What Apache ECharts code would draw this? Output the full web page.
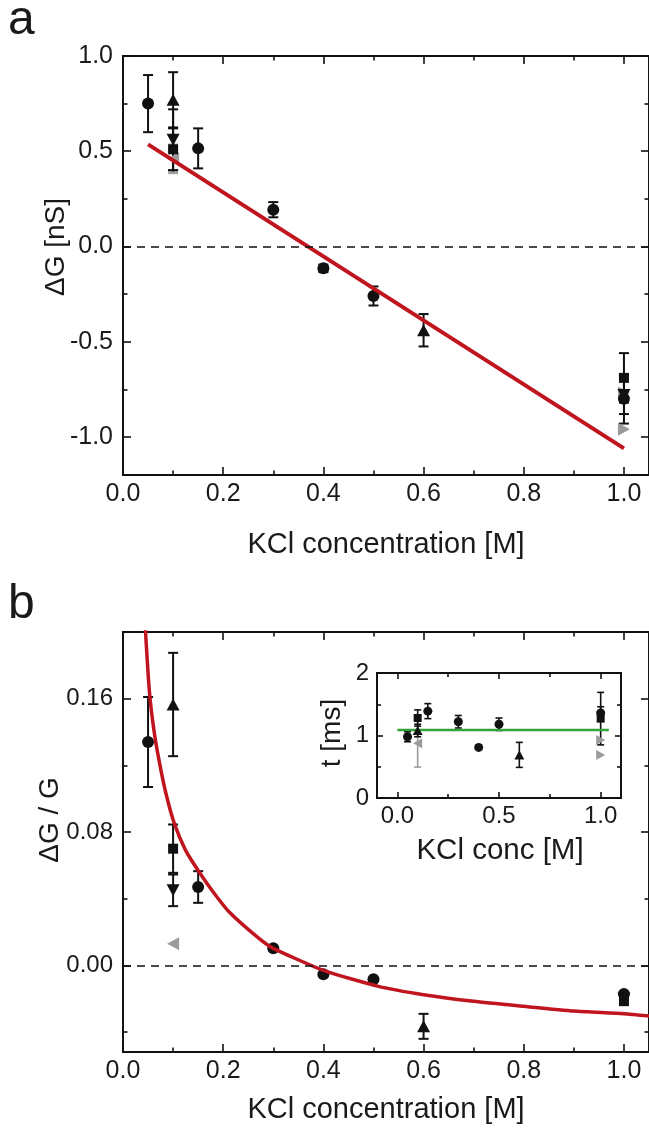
<!DOCTYPE html>
<html>
<head>
<meta charset="utf-8">
<script src="https://cdn.jsdelivr.net/npm/echarts@6/dist/echarts.min.js"></script>
<style>
  html, body { margin: 0; padding: 0; background: #fff; }
  #chart { width: 649px; height: 1131px; }
</style>
</head>
<body>
<div id="chart"></div>
<script>
// ---------- Panel a: conductance change ΔG [nS] vs KCl concentration ----------
const aCircleConc = [0.05, 0.15, 0.3, 0.4, 0.5, 1.0];
const aCircleVal  = [0.75, 0.515, 0.193, -0.115, -0.26, -0.80];
const aCircleErr  = [0.15, 0.105, 0.04, 0.02, 0.05, 0.13];

const aUpConc = [0.1, 0.6];
const aUpVal  = [0.77, -0.44];
const aUpErr  = [0.145, 0.085];

const aSquareConc = [0.1, 1.0];
const aSquareVal  = [0.51, -0.69];
const aSquareErr  = [0.11, 0.13];

const aDownConc = [0.1, 1.0];
const aDownVal  = [0.56, -0.78];
const aDownErr  = [0.16, 0.1];

const aGrayLeftConc = [0.1];
const aGrayLeftVal  = [0.46];
const aGrayLeftErr  = [0.075];

const aGrayRightConc = [1.0, 1.0];
const aGrayRightVal  = [-0.77, -0.96];

// linear fit, end points
const aFitConc = [0.05, 1.0];
const aFitVal  = [0.536, -1.06];

// ---------- Panel b: relative change ΔG / G ----------
const bCircleConc = [0.05, 0.15, 0.3, 0.4, 0.5, 1.0];
const bCircleVal  = [0.134, 0.047, 0.0102, -0.0054, -0.0084, -0.0172];
const bCircleErr  = [0.027, 0.0095, 0, 0, 0, 0];

const bUpConc = [0.1, 0.6];
const bUpVal  = [0.1565, -0.0366];
const bUpErr  = [0.031, 0.0075];

const bSquareConc = [0.1, 1.0];
const bSquareVal  = [0.070, -0.0215];
const bSquareErr  = [0.0145, 0];

const bDownConc = [0.1, 1.0];
const bDownVal  = [0.045, -0.020];
const bDownErr  = [0.0095, 0];

const bGrayLeftConc = [0.1];
const bGrayLeftVal  = [0.013];

// fitted curve, sampled
const bFitConc = [0.04, 0.045, 0.0528, 0.0613, 0.0713, 0.085, 0.1026, 0.125, 0.152, 0.18, 0.212, 0.272, 0.3, 0.4, 0.51, 0.6, 0.7, 0.8, 0.9, 1.0, 1.05];
const bFitVal  = [0.23, 0.2, 0.164, 0.142, 0.124, 0.104, 0.085, 0.069, 0.056, 0.044, 0.032, 0.016, 0.0102, -0.003, -0.0126, -0.0176, -0.0216, -0.0246, -0.0274, -0.029, -0.0304];

// ---------- Inset: dwell time t [ms] ----------
const iCircleConc = [0.05, 0.15, 0.3, 0.4, 0.5, 1.0];
const iCircleVal  = [0.98, 1.39, 1.22, 0.81, 1.18, 1.36];
const iCircleErr  = [0.08, 0.12, 0.1, 0, 0.1, 0.1];

const iUpConc = [0.1, 0.6];
const iUpVal  = [1.08, 0.69];
const iUpErr  = [0.1, 0.2];

const iSquareConc = [0.1, 1.0];
const iSquareVal  = [1.28, 1.27];
const iSquareErr  = [0.13, 0.42];

const iGrayLeftConc = [0.1];
const iGrayLeftVal  = [0.875];
const iGrayLeftErr  = [0.38];

const iGrayRightConc = [1.0, 1.0];
const iGrayRightVal  = [0.93, 0.69];

const iMeanConc = [0.0, 1.04];
const iMeanVal  = [1.09, 1.09];

// ---------- tick labels ----------
const xTicksMain = [0, 0.2, 0.4, 0.6, 0.8, 1.0];
const xMinorMain = [0.1, 0.3, 0.5, 0.7, 0.9];
const aYTicks = [-1.0, -0.5, 0, 0.5, 1.0];
const aYMinor = [-0.75, -0.25, 0.25, 0.75];
const bYTicks = [0, 0.08, 0.16];
const bYMinor = [-0.04, 0.04, 0.12];
const iXTicks = [0, 0.5, 1.0];
const iXMinor = [0.25, 0.75];
const iYTicks = [0, 1, 2];
const iYMinor = [0.5, 1.5];

// ---------- styling ----------
const FONT = "'Liberation Sans', Arial, Helvetica, sans-serif";
const BLACK = '#111111';
const GRAY = '#9b9b9b';
const RED = '#c0141f';
const GREEN = '#33a23a';

const zip = (xs, ys) => xs.map((x, i) => [x, ys[i]]);
const bars = (xs, ys, es) => xs.map((x, i) => [x, ys[i] - es[i], ys[i] + es[i]]).filter((d, i) => es[i] > 0);

// four axes per dimension: labelled major, minor, and the mirrored pair on the far side
function frameAxes(dim, gridIndex, min, max, majors, minors, fmt, font, margin, majLen, minLen) {
  const near = dim === 'x' ? 'bottom' : 'left';
  const far = dim === 'x' ? 'top' : 'right';
  const base = (pos, vals, len, labels) => ({
    type: 'value', gridIndex, position: pos, min, max,
    axisLine: { show: true, onZero: false, lineStyle: { color: BLACK, width: 1.8 } },
    axisTick: { show: true, inside: true, length: len, customValues: vals, lineStyle: { color: BLACK, width: 1.6 } },
    axisLabel: labels ? {
      show: true, customValues: majors, formatter: fmt, margin,
      color: '#1a1a1a', fontFamily: FONT, fontSize: font
    } : { show: false },
    splitLine: { show: false },
    minorTick: { show: false }
  });
  return [
    base(near, majors, majLen, true),
    base(near, minors, minLen, false),
    base(far, majors, majLen, false),
    base(far, minors, minLen, false)
  ];
}

const fmt1 = v => v.toFixed(1);
const fmt2 = v => v.toFixed(2);
const fmt0 = v => v.toFixed(0);

const xAxes = [
  ...frameAxes('x', 0, 0, 1.05, xTicksMain, xMinorMain, fmt1, 25, 7, 8, 4.5),
  ...frameAxes('x', 1, 0, 1.05, xTicksMain, xMinorMain, fmt1, 25, 7, 8, 4.5),
  ...frameAxes('x', 2, -0.1, 1.1, iXTicks, iXMinor, fmt1, 24, 6, 6, 4)
];
const yAxes = [
  ...frameAxes('y', 0, -1.2, 1.0, aYTicks, aYMinor, fmt1, 25, 10, 8, 4.5),
  ...frameAxes('y', 1, -0.052, 0.2, bYTicks, bYMinor, fmt2, 24, 10, 8, 4.5),
  ...frameAxes('y', 2, 0, 2, iYTicks, iYMinor, fmt0, 24, 8, 6, 4)
];

function errRender(capHalf, color, lw) {
  return function (params, api) {
    const x = api.value(0);
    const lo = api.coord([x, api.value(1)]);
    const hi = api.coord([x, api.value(2)]);
    const style = { stroke: color, lineWidth: lw };
    return {
      type: 'group',
      children: [
        { type: 'line', shape: { x1: lo[0], y1: lo[1], x2: hi[0], y2: hi[1] }, style },
        { type: 'line', shape: { x1: lo[0] - capHalf, y1: lo[1], x2: lo[0] + capHalf, y2: lo[1] }, style },
        { type: 'line', shape: { x1: hi[0] - capHalf, y1: hi[1], x2: hi[0] + capHalf, y2: hi[1] }, style }
      ]
    };
  };
}

function errSeries(g, data, color, cap, lw) {
  return {
    type: 'custom', xAxisIndex: 4 * g, yAxisIndex: 4 * g, data,
    encode: { x: 0, y: [1, 2] }, renderItem: errRender(cap, color, lw),
    clip: true, z: 2, silent: true
  };
}

function pts(g, data, symbol, size, color, rotate) {
  return {
    type: 'scatter', xAxisIndex: 4 * g, yAxisIndex: 4 * g, data,
    symbol, symbolSize: size, symbolRotate: rotate || 0,
    itemStyle: { color, opacity: 1 }, z: 3, silent: true
  };
}

const MS = 12, TS = [13, 12], SQ = 10;
const IMS = 9, ITS = [10, 9], ISQ = 8;

const series = [
  // panel a
  errSeries(0, bars(aGrayLeftConc, aGrayLeftVal, aGrayLeftErr), GRAY, 5, 2),
  errSeries(0, bars(aCircleConc, aCircleVal, aCircleErr), BLACK, 5, 2),
  errSeries(0, bars(aUpConc, aUpVal, aUpErr), BLACK, 5, 2),
  errSeries(0, bars(aSquareConc, aSquareVal, aSquareErr), BLACK, 5, 2),
  errSeries(0, bars(aDownConc, aDownVal, aDownErr), BLACK, 5, 2),
  pts(0, zip(aGrayLeftConc, aGrayLeftVal), 'triangle', TS, GRAY, 90),
  pts(0, zip(aGrayRightConc, aGrayRightVal), 'triangle', TS, GRAY, -90),
  pts(0, zip(aDownConc, aDownVal), 'triangle', TS, BLACK, 180),
  pts(0, zip(aSquareConc, aSquareVal), 'rect', SQ, BLACK),
  pts(0, zip(aUpConc, aUpVal), 'triangle', TS, BLACK),
  pts(0, zip(aCircleConc, aCircleVal), 'circle', MS, BLACK),
  {
    type: 'line', xAxisIndex: 0, yAxisIndex: 0, data: zip(aFitConc, aFitVal),
    showSymbol: false, lineStyle: { color: RED, width: 4 }, z: 4, silent: true,
    markLine: {
      silent: true, symbol: 'none', label: { show: false },
      lineStyle: { color: BLACK, type: [8, 6], width: 1.6 },
      data: [{ yAxis: 0 }]
    }
  },

  // panel b
  errSeries(1, bars(bCircleConc, bCircleVal, bCircleErr), BLACK, 5, 2),
  errSeries(1, bars(bUpConc, bUpVal, bUpErr), BLACK, 5, 2),
  errSeries(1, bars(bSquareConc, bSquareVal, bSquareErr), BLACK, 5, 2),
  errSeries(1, bars(bDownConc, bDownVal, bDownErr), BLACK, 5, 2),
  pts(1, zip(bGrayLeftConc, bGrayLeftVal), 'triangle', TS, GRAY, 90),
  pts(1, zip(bDownConc, bDownVal), 'triangle', TS, BLACK, 180),
  pts(1, zip(bSquareConc, bSquareVal), 'rect', SQ, BLACK),
  pts(1, zip(bUpConc, bUpVal), 'triangle', TS, BLACK),
  pts(1, zip(bCircleConc, bCircleVal), 'circle', MS, BLACK),
  {
    type: 'line', xAxisIndex: 4, yAxisIndex: 4, data: zip(bFitConc, bFitVal),
    smooth: 0.2, showSymbol: false, clip: true,
    lineStyle: { color: RED, width: 3.5 }, z: 4, silent: true,
    markLine: {
      silent: true, symbol: 'none', label: { show: false },
      lineStyle: { color: BLACK, type: [8, 6], width: 1.6 },
      data: [{ yAxis: 0 }]
    }
  },

  // inset
  errSeries(2, bars(iGrayLeftConc, iGrayLeftVal, iGrayLeftErr), GRAY, 3.5, 1.6),
  errSeries(2, bars(iCircleConc, iCircleVal, iCircleErr), BLACK, 3.5, 1.6),
  errSeries(2, bars(iUpConc, iUpVal, iUpErr), BLACK, 3.5, 1.6),
  errSeries(2, bars(iSquareConc, iSquareVal, iSquareErr), BLACK, 3.5, 1.6),
  {
    type: 'line', xAxisIndex: 8, yAxisIndex: 8, data: zip(iMeanConc, iMeanVal),
    showSymbol: false, lineStyle: { color: GREEN, width: 2.5 }, z: 2.5, silent: true
  },
  pts(2, zip(iGrayLeftConc, iGrayLeftVal), 'triangle', ITS, GRAY, 90),
  pts(2, zip(iGrayRightConc, iGrayRightVal), 'triangle', ITS, GRAY, -90),
  pts(2, zip(iSquareConc, iSquareVal), 'rect', ISQ, BLACK),
  pts(2, zip(iUpConc, iUpVal), 'triangle', ITS, BLACK),
  pts(2, zip(iCircleConc, iCircleVal), 'circle', IMS, BLACK)
];

const txt = (text, x, y, size, rot, align) => ({
  type: 'text', x, y, rotation: rot || 0, silent: true,
  style: {
    text, fill: '#1a1a1a', font: `${size}px ${FONT}`,
    textAlign: align || 'center', textVerticalAlign: 'middle'
  }
});

const chart = echarts.init(document.getElementById('chart'), null, { renderer: 'canvas', width: 649, height: 1131 });
chart.setOption({
  backgroundColor: '#ffffff',
  animation: false,
  grid: [
    { left: 123, top: 56, width: 527, height: 419 },
    { left: 123, top: 632, width: 527, height: 420 },
    { left: 377, top: 673, width: 244, height: 125, backgroundColor: '#fff', show: true, borderWidth: 0 }
  ],
  xAxis: xAxes,
  yAxis: yAxes,
  series,
  graphic: [
    txt('a', 8, 21, 48, 0, 'left'),
    txt('b', 8, 605, 48, 0, 'left'),
    txt('ΔG [nS]', 56, 247, 28, Math.PI / 2),
    txt('KCl concentration [M]', 386, 545, 29),
    txt('ΔG / G', 50, 820, 28, Math.PI / 2),
    txt('KCl concentration [M]', 386, 1110, 29),
    txt('t [ms]', 332, 733, 28, Math.PI / 2),
    txt('KCl conc [M]', 500, 851, 29.5)
  ]
});
</script>
</body>
</html>
